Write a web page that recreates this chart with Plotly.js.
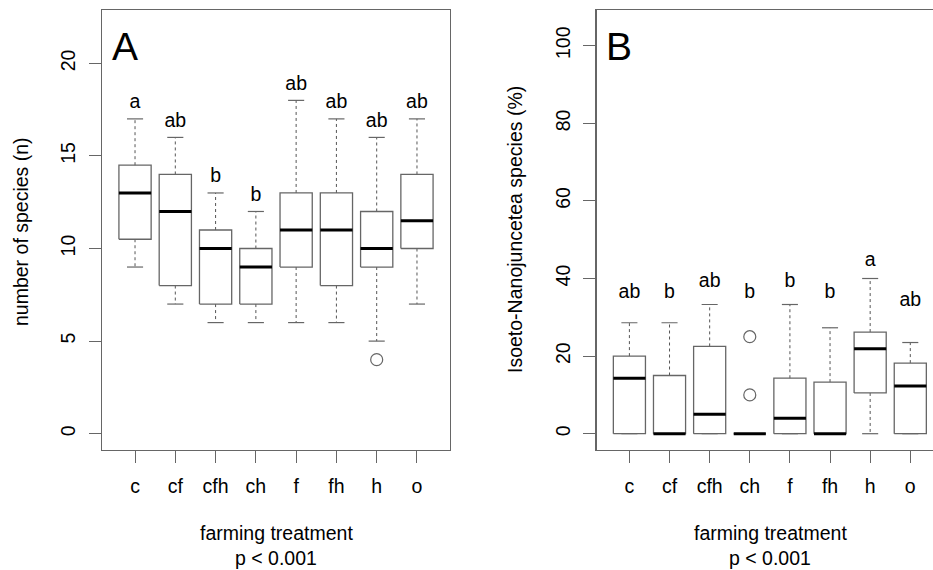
<!DOCTYPE html>
<html><head><meta charset="utf-8">
<script src="https://cdn.plot.ly/plotly-3.0.1.min.js"></script>
<style>html,body{margin:0;padding:0;background:#fff}#chart{width:933px;height:570px}</style>
</head><body><div id="chart"></div>
<script>
// ---------- data ----------
const categories = ['c','cf','cfh','ch','f','fh','h','o'];

// Panel A: number of species (n)
const loA  = [9, 7, 6, 6, 6, 6, 5, 7];
const q1A  = [10.5, 8, 7, 7, 9, 8, 9, 10];
const medA = [13, 12, 10, 9, 11, 11, 10, 11.5];
const q3A  = [14.5, 14, 11, 10, 13, 13, 12, 14];
const hiA  = [17, 16, 13, 12, 18, 17, 16, 17];
const outCatA = ['h'];
const outValA = [4];
const lettersA = ['a','ab','b','b','ab','ab','ab','ab'];
const letterYA = [17.85, 16.85, 13.85, 12.85, 18.85, 17.85, 16.85, 17.85];

// Panel B: Isoeto-Nanojuncetea species (%)
const loB  = [0, 0, 0, 0, 0, 0, 0, 0];
const q1B  = [0, 0, 0, 0, 0, 0, 10.5, 0];
const medB = [14.3, 0, 5, 0, 4, 0, 21.9, 12.3];
const q3B  = [20, 15, 22.5, 0, 14.3, 13.3, 26.2, 18.2];
const hiB  = [28.6, 28.6, 33.3, 0, 33.3, 27.3, 40, 23.5];
const outCatB = ['ch', 'ch'];
const outValB = [25, 10];
const lettersB = ['ab','b','ab','b','b','b','a','ab'];
const letterYB = [36.2, 36.2, 39.0, 36.2, 39.0, 36.2, 44.4, 34.1];

const ticksA = [0, 5, 10, 15, 20];
const ticksB = [0, 20, 40, 60, 80, 100];

// ---------- styling ----------
const FONT = 'Liberation Sans, Arial, Helvetica, sans-serif';
const FS = 19.5;
const GREY = '#666666';
const HALF = 0.4, STAPLE = 0.2;

function buildTraces(xa, ya, lo, q1, med, q3, hi, outCat, outVal, letters, letterY) {
  const bx = [], by = [], mx = [], my = [], wx = [], wy = [], sx = [], sy = [];
  categories.forEach((c, i) => {
    const p = i + 1;
    bx.push(p-HALF, p+HALF, p+HALF, p-HALF, p-HALF, null);
    by.push(q1[i], q1[i], q3[i], q3[i], q1[i], null);
    mx.push(p-HALF, p+HALF, null);
    my.push(med[i], med[i], null);
    if (hi[i] > q3[i]) { wx.push(p, p, null); wy.push(q3[i], hi[i], null); }
    if (lo[i] < q1[i]) { wx.push(p, p, null); wy.push(q1[i], lo[i], null); }
    sx.push(p-STAPLE, p+STAPLE, null, p-STAPLE, p+STAPLE, null);
    sy.push(hi[i], hi[i], null, lo[i], lo[i], null);
  });
  const common = {xaxis: xa, yaxis: ya, type: 'scatter', hoverinfo: 'skip', showlegend: false};
  return [
    Object.assign({}, common, {x: wx, y: wy, mode: 'lines', line: {color: '#555', width: 1, dash: '3px,3px'}}),
    Object.assign({}, common, {x: sx, y: sy, mode: 'lines', line: {color: GREY, width: 1.2}}),
    Object.assign({}, common, {x: bx, y: by, mode: 'lines', line: {color: GREY, width: 1.3}}),
    Object.assign({}, common, {x: mx, y: my, mode: 'lines', line: {color: '#000', width: 3}}),
    Object.assign({}, common, {x: outCat.map(c => categories.indexOf(c) + 1), y: outVal, mode: 'markers',
      marker: {symbol: 'circle-open', size: 12, color: GREY, line: {width: 1.2, color: GREY}}}),
    Object.assign({}, common, {x: categories.map((c, i) => i + 1), y: letterY, mode: 'text', text: letters,
      textposition: 'middle center', textfont: {family: FONT, size: FS, color: '#000'}})
  ];
}

const data = [].concat(
  buildTraces('x', 'y', loA, q1A, medA, q3A, hiA, outCatA, outValA, lettersA, letterYA),
  buildTraces('x2', 'y2', loB, q1B, medB, q3B, hiB, outCatB, outValB, lettersB, letterYB)
);

const W = 933, H = 570;
const yDom = [1 - 450/H, 1 - 10/H];
function xAxis(domain, range, anchor) {
  return {domain, range, anchor, tickmode: 'array', tickvals: categories.map((c, i) => i + 1), ticktext: categories,
    ticks: 'outside', ticklen: 12, tickwidth: 1, tickcolor: GREY, showline: true, linecolor: GREY, linewidth: 1.2,
    mirror: true, showgrid: false, zeroline: false, tickfont: {family: FONT, size: FS, color: '#000'},
    ticklabelstandoff: 6, fixedrange: true};
}
function yAxis(domain, range, anchor, tickvals, mirror) {
  return {domain, range, anchor, tickmode: 'array', tickvals, ticktext: tickvals.map(String), tickangle: -90,
    ticks: 'outside', ticklen: 12, tickwidth: 1, tickcolor: GREY, showline: true, linecolor: GREY, linewidth: 1.2,
    mirror, showgrid: false, zeroline: false, tickfont: {family: FONT, size: FS, color: '#000'},
    ticklabelstandoff: 6, fixedrange: true};
}

const ann = (text, x, y, size, angle) => ({text, x: x / W, y: 1 - y / H, xref: 'paper', yref: 'paper',
  xanchor: 'center', yanchor: 'middle', showarrow: false, textangle: angle || 0,
  font: {family: FONT, size, color: '#000'}});

const layout = {
  width: W, height: H, margin: {l: 0, r: 0, t: 0, b: 0},
  paper_bgcolor: '#fff', plot_bgcolor: '#fff',
  xaxis: xAxis([102/W, 450/W], [0.18, 8.82], 'y'),
  yaxis: yAxis(yDom, [-0.88, 22.88], 'x', ticksA, true),
  xaxis2: xAxis([596.5/W, 1], [0.18, 8.566], 'y2'),
  yaxis2: yAxis(yDom, [-4.2, 109.2], 'x2', ticksB, false),
  annotations: [
    ann('A', 124.5, 46, 39),
    ann('B', 618.5, 46, 39),
    ann('number of species (n)', 21, 232, FS, -90),
    ann('Isoeto-Nanojuncetea species (%)', 515, 230, FS, -90),
    ann('farming treatment', 276, 533, FS),
    ann('p &lt; 0.001', 276, 558, FS),
    ann('farming treatment', 770, 533, FS),
    ann('p &lt; 0.001', 770, 558, FS)
  ]
};

Plotly.newPlot('chart', data, layout, {staticPlot: true, displayModeBar: false});
</script>
</body></html>
